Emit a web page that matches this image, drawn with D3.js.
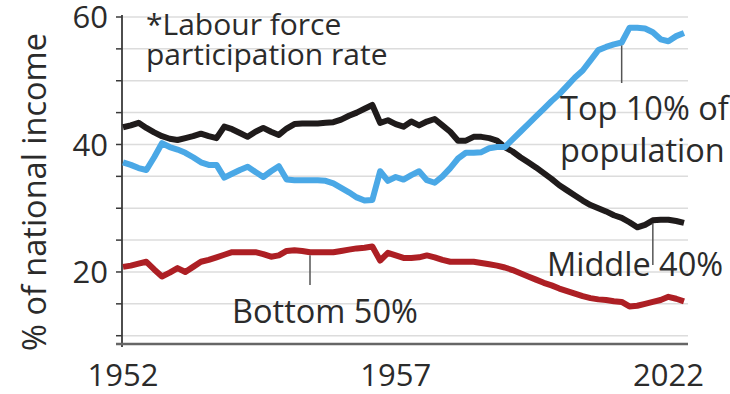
<!DOCTYPE html>
<html>
<head>
<meta charset="utf-8">
<script src="https://cdn.jsdelivr.net/npm/d3@7"></script>
<style>
  html, body { margin: 0; padding: 0; background: #fff; }
  svg { display: block; }
  text { font-family: "Open Sans", "Noto Sans", sans-serif; fill: #2b2b2b; }
</style>
</head>
<body>
<svg id="chart" width="730" height="394"></svg>
<script>
// Share of national income by group, yearly
const years = d3.range(1952, 2025);

const top10 = [
  37.2, 36.8, 36.3, 36.0, 38.0, 40.2, 39.6, 39.2, 38.7, 38.0,
  37.2, 36.8, 36.8, 34.8, 35.4, 36.0, 36.5, 35.7, 34.9, 35.8,
  36.6, 34.5, 34.4, 34.4, 34.4, 34.4, 34.3, 33.9, 33.2, 32.5,
  31.7, 31.2, 31.3, 35.8, 34.3, 34.9, 34.5, 35.2, 35.8, 34.4,
  34.0, 35.0, 36.3, 37.8, 38.7, 38.7, 38.8, 39.4, 39.6, 39.6,
  40.8, 42.0, 43.2, 44.4, 45.6, 46.8, 47.9, 49.2, 50.5, 51.6,
  53.2, 54.8, 55.3, 55.7, 56.0, 58.3, 58.3, 58.2, 57.6, 56.5,
  56.2, 57.0, 57.5
];

const middle40 = [
  42.7, 43.0, 43.4, 42.6, 41.9, 41.3, 40.9, 40.7, 41.0, 41.3,
  41.7, 41.3, 41.0, 42.8, 42.4, 41.8, 41.2, 42.0, 42.6, 42.0,
  41.5, 42.5, 43.2, 43.3, 43.3, 43.3, 43.4, 43.5, 43.9, 44.5,
  45.0, 45.6, 46.2, 43.4, 43.8, 43.2, 42.8, 43.6, 43.0, 43.6,
  44.0, 43.0, 42.0, 40.6, 40.6, 41.2, 41.2, 41.0, 40.6, 39.6,
  38.9, 38.0, 37.2, 36.4, 35.5, 34.6, 33.6, 32.8, 32.0, 31.2,
  30.5, 30.0, 29.5, 28.9, 28.5, 27.8, 27.0, 27.4, 28.1, 28.2,
  28.2, 28.0, 27.7
];

const bottom50 = [
  20.8, 21.0, 21.3, 21.6, 20.4, 19.3, 19.9, 20.6, 20.0, 20.8,
  21.6, 21.9, 22.3, 22.7, 23.1, 23.1, 23.1, 23.1, 22.8, 22.4,
  22.6, 23.3, 23.4, 23.3, 23.1, 23.1, 23.1, 23.1, 23.3, 23.5,
  23.7, 23.8, 24.0, 21.8, 23.0, 22.6, 22.2, 22.2, 22.3, 22.6,
  22.3, 21.9, 21.6, 21.6, 21.6, 21.6, 21.4, 21.2, 21.0, 20.7,
  20.3, 19.8, 19.3, 18.8, 18.3, 17.9, 17.4, 17.0, 16.6, 16.2,
  15.9, 15.7, 15.6, 15.4, 15.3, 14.6, 14.7, 15.0, 15.3, 15.6,
  16.1, 15.8, 15.4
];

const xTickValues = [1952, 1987, 2022];
const xTickLabels = ["1952", "1957", "2022"];
const yTickValues = [20, 40, 60];
const yMinorTicks = [10, 15, 20, 25, 30, 35, 40, 45, 50, 55, 60];

const svg = d3.select("#chart");

const x = d3.scaleLinear().domain([1952, 2024]).range([123, 684]);
const y = d3.scaleLinear().domain([8.7, 60]).range([344, 17]);
const plotRight = 688;

// Gridlines
svg.append("g")
  .selectAll("line")
  .data(yMinorTicks)
  .join("line")
  .attr("x1", x(1952) - 1).attr("x2", plotRight)
  .attr("y1", d => y(d)).attr("y2", d => y(d))
  .attr("stroke", "#dcdcdc").attr("stroke-width", 1.5);

// Y axis: minor ticks every 5, labels at 20/40/60
const yAxis = svg.append("g").attr("transform", `translate(${x(1952) - 1},0)`);
yAxis.append("line")
  .attr("x1", 0).attr("x2", 0)
  .attr("y1", y(60) - 2).attr("y2", y(8.7) + 3)
  .attr("stroke", "#3a3a3a").attr("stroke-width", 1.8);
yAxis.selectAll("line.tick")
  .data(yMinorTicks.concat([8.7]))
  .join("line").attr("class", "tick")
  .attr("x1", -6).attr("x2", 0)
  .attr("y1", d => y(d)).attr("y2", d => y(d))
  .attr("stroke", "#3a3a3a").attr("stroke-width", 1.5);
yAxis.selectAll("text")
  .data(yTickValues)
  .join("text")
  .attr("x", -14)
  .attr("y", d => y(d))
  .attr("dy", "0.36em")
  .attr("text-anchor", "end")
  .attr("font-size", 31)
  .text(d => d);

// X axis baseline
svg.append("line")
  .attr("x1", x(1952) - 7).attr("x2", plotRight)
  .attr("y1", y(8.7)).attr("y2", y(8.7))
  .attr("stroke", "#666").attr("stroke-width", 2.5);

svg.append("g")
  .selectAll("text")
  .data(xTickValues)
  .join("text")
  .attr("x", d => x(d))
  .attr("y", 386)
  .attr("text-anchor", "middle")
  .attr("font-size", 31)
  .text((d, i) => xTickLabels[i]);

// Y axis title
svg.append("text")
  .attr("transform", "translate(46,192) rotate(-90)")
  .attr("text-anchor", "middle")
  .attr("font-size", 32.5)
  .text("% of national income");

// Series lines
const line = d3.line()
  .x((d, i) => x(years[i]))
  .y(d => y(d))
  .curve(d3.curveLinear);

const series = [
  { name: "Middle 40%", values: middle40, color: "#1f1b1b" },
  { name: "Bottom 50%", values: bottom50, color: "#ad1f24" },
  { name: "Top 10%", values: top10, color: "#4aa8e6" }
];

svg.append("g")
  .selectAll("path")
  .data(series)
  .join("path")
  .attr("d", d => line(d.values))
  .attr("fill", "none")
  .attr("stroke", d => d.color)
  .attr("stroke-width", 6)
  .attr("stroke-linejoin", "round")
  .attr("stroke-linecap", "butt");

// Annotations with leader lines
function valueAt(arr, yr) { return arr[years.indexOf(yr)]; }

const leaders = [
  { yr: 2016, arr: top10, yEnd: 83 },
  { yr: 2020, arr: middle40, yEnd: 265 },
  { yr: 1976, arr: bottom50, yEnd: 285 }
];
svg.append("g")
  .selectAll("line")
  .data(leaders)
  .join("line")
  .attr("x1", d => x(d.yr)).attr("x2", d => x(d.yr))
  .attr("y1", d => y(valueAt(d.arr, d.yr)) + 3)
  .attr("y2", d => d.yEnd)
  .attr("stroke", "#555").attr("stroke-width", 1.5);

const notes = [
  { lines: ["*Labour force", "participation rate"], x: 146, y: 35, lh: 30, size: 30 },
  { lines: ["Top 10% of", "population"], x: 560, y: 120, lh: 42, size: 32.5 },
  { lines: ["Middle 40%"], x: 547, y: 276, lh: 30, size: 32.5 },
  { lines: ["Bottom 50%"], x: 232, y: 323, lh: 30, size: 32.5 }
];
notes.forEach(n => {
  const t = svg.append("text")
    .attr("x", n.x).attr("y", n.y)
    .attr("font-size", n.size);
  n.lines.forEach((s, i) => {
    t.append("tspan").attr("x", n.x).attr("dy", i === 0 ? 0 : n.lh).text(s);
  });
});
</script>
</body>
</html>
